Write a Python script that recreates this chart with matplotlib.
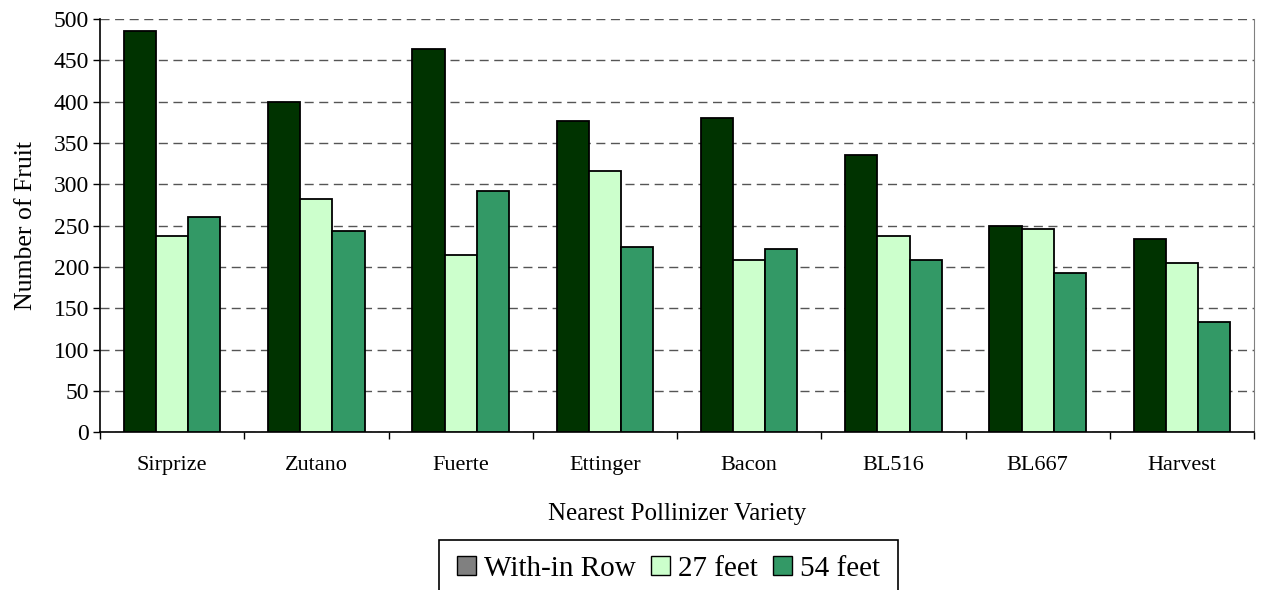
import matplotlib.pyplot as plt
import numpy as np
from matplotlib.patches import Patch, Rectangle

varieties = ["Sirprize", "Zutano", "Fuerte", "Ettinger", "Bacon", "BL516", "BL667", "Harvest"]
within_row = [486, 399, 464, 377, 380, 336, 249, 234]
feet_27 = [237, 282, 215, 316, 208, 237, 246, 205]
feet_54 = [260, 243, 292, 224, 222, 208, 193, 133]

series_names = ["With-in Row", "27 feet", "54 feet"]
bar_colors = ["#003300", "#CCFFCC", "#339966"]
legend_colors = ["#808080", "#CCFFCC", "#339966"]

plt.rcParams["font.family"] = ["Liberation Serif", "DejaVu Serif"]

W, H = 1261, 590
fig = plt.figure(figsize=(W / 100, H / 100), dpi=100)
ax = fig.add_axes([0.0793, 0.2673, 0.9152, 0.7005])

x = np.arange(len(varieties))
w = 0.67 / 3
for i, vals in enumerate([within_row, feet_27, feet_54]):
    ax.bar(x + (i - 1) * w, vals, width=w, color=bar_colors[i],
           edgecolor="black", linewidth=1.3, zorder=3)

ax.set_xlim(-0.5, len(varieties) - 0.5)
ax.set_ylim(0, 500)
ax.set_yticks(range(0, 501, 50))
ax.yaxis.grid(True, color="#555555", linestyle=(0, (6.5, 4)), linewidth=1.0, zorder=0)
ax.set_axisbelow(True)

# category labels at centres, tick marks on the boundaries
ax.set_xticks(x)
ax.set_xticklabels(varieties)
ax.set_xticks(np.arange(-0.5, len(varieties), 1.0), minor=True)
ax.tick_params(axis="x", which="major", length=0, pad=17, labelsize=16)
ax.tick_params(axis="x", which="minor", length=5, width=1.0, direction="out")
ax.tick_params(axis="y", length=5, width=1.0, labelsize=17, pad=3)

ax.spines["top"].set_visible(False)
ax.spines["right"].set_color("#808080")
ax.spines["left"].set_linewidth(1.2)
ax.spines["bottom"].set_linewidth(1.2)

ax.set_ylabel("Number of Fruit", fontsize=18.5, labelpad=12)
ax.set_xlabel("Nearest Pollinizer Variety", fontsize=18, labelpad=20)

# legend entries without a frame; the box runs off the bottom edge
handles = [Patch(facecolor=c, edgecolor="black", linewidth=1.0) for c in legend_colors]
leg = fig.legend(handles, series_names, loc="upper center",
                 bbox_to_anchor=(668.5 / W, 1 - 550 / H),
                 ncol=3, fontsize=21, frameon=False,
                 handlelength=0.65, handleheight=0.65, handletextpad=0.3,
                 columnspacing=0.5, borderpad=0.2, borderaxespad=0)
fig.patches.append(Rectangle((439 / W, -0.05), (898 - 439) / W, 0.05 + 1 - 540 / H,
                             transform=fig.transFigure, facecolor="none",
                             edgecolor="black", linewidth=1.2))

fig.savefig("out.png", dpi=100)
